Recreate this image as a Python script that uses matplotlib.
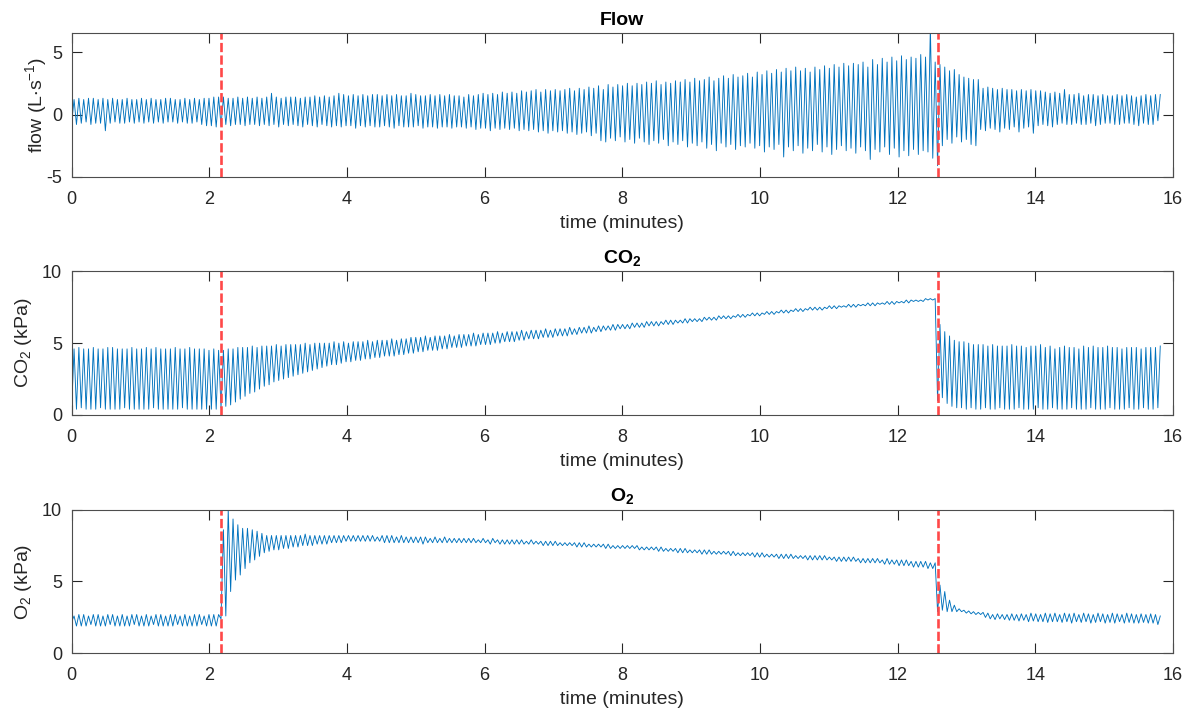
import numpy as np
import matplotlib.pyplot as plt

plt.rcParams['font.family'] = ['Liberation Sans', 'DejaVu Sans']
plt.rcParams['mathtext.default'] = 'regular'
plt.rcParams['axes.unicode_minus'] = False

# === Repères temporels (minutes) ===
t_debut = 0.0
t_bascule_1 = 2.17
t_bascule_2 = 12.58
t_fin = 15.85

# === Valeurs lues respiration par respiration (creux puis pic) ===
# phase A : 0 -> 2.17 min, phase B : 2.17 -> 12.58 min, phase C : 12.58 -> 15.85 min

flow_pic_A = [1.2, 1.3, 1.2, 1.3, 1.3, 1.2, 1.3, 1.2, 1.3, 1.2, 1.2, 1.3, 1.2, 1.2, 1.3, 1.2,
              1.3, 1.2, 1.2, 1.3, 1.3, 1.2, 1.2, 1.3, 1.2, 1.3, 1.2, 1.3, 1.3, 1.4, 1.4]
flow_creux_A = [-0.7, -0.8, -0.7, -0.6, -0.8, -0.7, -0.7, -1.3, -0.7, -0.6, -0.7, -0.7, -0.6, -0.7, -0.6, -0.7,
                -0.6, -0.7, -0.6, -0.7, -0.6, -0.6, -0.7, -0.6, -0.7, -0.7, -0.6, -0.8, -0.9, -0.9, -1.0]
flow_pic_B = [1.4, 1.3, 1.3, 1.4, 1.3, 1.4, 1.3, 1.4, 1.3, 1.4, 1.7, 1.4, 1.3, 1.4, 1.4,
              1.4, 1.3, 1.4, 1.4, 1.5, 1.4, 1.5, 1.4, 1.5, 1.7, 1.6, 1.5, 1.6, 1.5, 1.6,
              1.5, 1.6, 1.6, 1.5, 1.6, 1.5, 1.6, 1.5, 1.5, 1.7, 1.6, 1.5, 1.5, 1.6, 1.5,
              1.6, 1.5, 1.6, 1.5, 1.5, 1.4, 1.6, 1.5, 1.6, 1.7, 1.6, 1.7, 1.6, 1.8, 1.7,
              1.8, 1.7, 1.9, 1.8, 1.9, 2.0, 1.8, 2.0, 1.9, 2.0, 1.9, 2.0, 2.1, 1.9, 2.1,
              2.0, 2.2, 2.1, 2.3, 2.0, 2.4, 2.2, 2.4, 2.3, 2.5, 2.3, 2.5, 2.4, 2.6, 2.5,
              2.7, 2.4, 2.6, 2.5, 2.7, 2.6, 2.8, 2.6, 2.9, 2.7, 2.8, 3.0, 2.7, 2.9, 3.1,
              2.9, 3.2, 3.0, 3.1, 3.3, 3.0, 3.4, 3.2, 3.5, 3.3, 3.6, 3.4, 3.7, 3.5, 3.8,
              3.5, 3.7, 3.4, 3.8, 3.6, 3.9, 3.7, 4.0, 3.8, 4.1, 3.9, 4.1, 4.0, 4.2, 3.8,
              4.4, 4.0, 4.5, 4.2, 4.6, 4.3, 4.7, 4.4, 4.6, 4.5, 4.8, 4.6, 7.0, 4.2]
flow_creux_B = [-0.9, -0.8, -0.9, -0.8, -0.8, -0.9, -0.8, -0.8, -0.9, -0.8, -0.9, -0.8, -1.0, -0.8, -0.9,
                -0.8, -0.9, -1.0, -0.8, -0.9, -1.0, -0.8, -0.9, -1.0, -0.9, -1.0, -0.9, -0.9, -1.1, -0.9,
                -1.0, -0.9, -1.0, -1.0, -0.9, -1.0, -1.1, -0.9, -1.0, -1.0, -1.0, -0.9, -1.1, -1.0, -1.0,
                -1.1, -1.0, -1.0, -1.1, -1.0, -1.0, -1.1, -1.0, -1.2, -1.1, -1.1, -1.3, -1.1, -1.2, -1.1,
                -1.2, -1.1, -1.3, -1.2, -1.3, -1.2, -1.4, -1.3, -1.5, -1.3, -1.4, -1.3, -1.5, -1.4, -1.6,
                -1.5, -1.4, -1.7, -1.5, -2.1, -2.2, -1.9, -2.1, -1.8, -2.2, -2.0, -2.3, -1.9, -2.2, -2.4,
                -2.1, -2.3, -2.0, -2.5, -2.2, -2.4, -2.1, -2.6, -2.3, -2.5, -2.2, -2.7, -2.4, -2.9, -2.3,
                -2.6, -2.4, -2.8, -2.5, -2.6, -2.3, -2.7, -2.5, -3.0, -2.6, -2.8, -2.4, -3.4, -2.6, -2.9,
                -2.5, -3.1, -2.7, -2.9, -2.4, -3.0, -2.6, -3.2, -2.8, -2.5, -2.9, -2.7, -3.1, -2.6, -2.9,
                -3.6, -2.8, -3.0, -2.6, -3.2, -2.7, -3.4, -2.9, -3.3, -2.8, -3.2, -2.9, -3.0, -3.5]
flow_pic_C = [4.0, 3.8, 3.5, 3.6, 3.2, 3.0, 2.9, 2.8, 2.8,
              2.1, 2.2, 2.1, 2.0, 2.1, 2.0, 2.0, 1.9, 2.0, 1.9, 2.0, 1.9,
              1.9, 1.8, 1.7, 1.8, 1.7, 2.0, 1.6, 1.6, 1.7, 1.5, 1.6, 1.6, 1.5, 1.6, 1.5,
              1.5, 1.6, 1.5, 1.6, 1.5, 1.4, 1.5, 1.6, 1.5, 1.6, 1.6]
flow_creux_C = [-4.1, -2.5, -2.0, -2.3, -1.8, -2.2, -2.0, -2.4, -2.5,
                -1.2, -1.3, -1.1, -1.2, -1.4, -1.1, -1.2, -1.0, -1.4, -1.1, -1.0, -1.5,
                -0.9, -0.8, -0.9, -1.0, -0.8, -0.7, -0.8, -0.8, -0.7, -0.8, -0.8, -0.7, -0.9, -0.8, -0.7,
                -0.7, -0.8, -0.8, -0.7, -0.7, -0.8, -0.9, -0.7, -0.8, -0.8, -0.5]

co2_pic_A = [4.6, 4.7, 4.6, 4.6, 4.7, 4.6, 4.6, 4.7, 4.7, 4.6, 4.6, 4.6, 4.7, 4.6, 4.6, 4.7,
             4.6, 4.7, 4.6, 4.6, 4.6, 4.7, 4.6, 4.6, 4.7, 4.6, 4.6, 4.6, 4.5, 4.6, 4.5]
co2_creux_A = [0.4, 0.4, 0.5, 0.4, 0.4, 0.4, 0.5, 0.4, 0.4, 0.4, 0.4, 0.5, 0.4, 0.4, 0.4, 0.4,
               0.4, 0.5, 0.4, 0.4, 0.4, 0.4, 0.4, 0.5, 0.4, 0.4, 0.4, 0.4, 0.4, 0.4, 0.4]
co2_pic_B = [4.5, 4.6, 4.6, 4.7, 4.7, 4.7, 4.8, 4.7, 4.8, 4.8, 4.8, 4.9, 4.8, 4.9, 4.9,
             4.9, 4.9, 5.0, 4.9, 5.0, 5.0, 5.0, 5.0, 5.1, 5.0, 5.1, 5.0, 5.1, 5.1, 5.1,
             5.2, 5.1, 5.2, 5.2, 5.2, 5.3, 5.2, 5.3, 5.3, 5.4, 5.4, 5.4, 5.5, 5.4, 5.5,
             5.5, 5.5, 5.6, 5.5, 5.6, 5.6, 5.6, 5.7, 5.6, 5.7, 5.7, 5.7, 5.8, 5.7, 5.8,
             5.8, 5.8, 5.9, 5.8, 5.9, 5.9, 5.9, 6.0, 5.9, 6.0, 6.0, 6.0, 6.1, 6.0, 6.1,
             6.1, 6.2, 6.1, 6.2, 6.2, 6.2, 6.3, 6.3, 6.3, 6.3, 6.4, 6.4, 6.4, 6.5, 6.5,
             6.5, 6.5, 6.6, 6.6, 6.6, 6.6, 6.7, 6.7, 6.7, 6.7, 6.8, 6.8, 6.8, 6.9, 6.9,
             6.9, 6.9, 7.0, 7.0, 7.0, 7.1, 7.1, 7.1, 7.2, 7.2, 7.2, 7.3, 7.3, 7.3, 7.4,
             7.4, 7.4, 7.5, 7.5, 7.5, 7.5, 7.6, 7.6, 7.6, 7.6, 7.7, 7.7, 7.7, 7.7, 7.8,
             7.8, 7.8, 7.8, 7.9, 7.9, 7.9, 7.9, 8.0, 8.0, 8.0, 8.0, 8.1, 8.1, 8.1]
co2_creux_B = [0.5, 0.6, 0.7, 0.9, 1.1, 1.3, 1.5, 1.6, 1.8, 2.0, 2.1, 2.3, 2.4, 2.5, 2.6,
               2.7, 2.8, 2.9, 3.0, 3.1, 3.2, 3.3, 3.4, 3.5, 3.5, 3.6, 3.7, 3.7, 3.8, 3.8,
               3.9, 3.9, 4.0, 4.0, 4.1, 4.1, 4.1, 4.2, 4.2, 4.3, 4.3, 4.4, 4.4, 4.5, 4.5,
               4.5, 4.6, 4.6, 4.7, 4.7, 4.7, 4.8, 4.8, 4.8, 4.9, 4.9, 4.9, 5.0, 5.0, 5.1,
               5.1, 5.1, 5.2, 5.2, 5.3, 5.3, 5.3, 5.4, 5.4, 5.4, 5.5, 5.5, 5.5, 5.6, 5.6,
               5.7, 5.7, 5.7, 5.8, 5.8, 5.9, 5.9, 5.9, 6.0, 6.0, 6.0, 6.1, 6.1, 6.1, 6.2,
               6.2, 6.2, 6.3, 6.3, 6.3, 6.4, 6.4, 6.4, 6.5, 6.5, 6.5, 6.6, 6.6, 6.6, 6.7,
               6.7, 6.7, 6.8, 6.8, 6.8, 6.9, 6.9, 6.9, 7.0, 7.0, 7.0, 7.1, 7.1, 7.1, 7.2,
               7.2, 7.2, 7.3, 7.3, 7.3, 7.3, 7.4, 7.4, 7.4, 7.5, 7.5, 7.5, 7.5, 7.6, 7.6,
               7.6, 7.6, 7.7, 7.7, 7.7, 7.7, 7.8, 7.8, 7.8, 7.9, 7.9, 7.9, 8.0, 8.0]
co2_pic_C = [6.3, 5.8, 5.5, 5.2, 5.1, 5.1, 5.0, 4.9, 4.9, 4.9, 4.8, 4.9, 4.8, 4.8, 4.8, 4.9,
             4.8, 4.8, 4.7, 4.8, 4.8, 4.9, 4.7, 4.8, 4.6, 4.7, 4.8, 4.7, 4.7, 4.6, 4.8, 4.7,
             4.8, 4.7, 4.7, 4.8, 4.7, 4.7, 4.6, 4.7, 4.7, 4.7, 4.6, 4.7, 4.7, 4.7, 4.8]
co2_creux_C = [1.0, 1.2, 0.8, 0.6, 0.5, 0.5, 0.4, 0.5, 0.4, 0.4, 0.5, 0.4, 0.4, 0.5, 0.4, 0.4,
               0.4, 0.5, 0.4, 0.4, 0.4, 0.5, 0.4, 0.4, 0.5, 0.4, 0.4, 0.4, 0.5, 0.4, 0.4, 0.4,
               0.5, 0.4, 0.4, 0.4, 0.5, 0.4, 0.4, 0.4, 0.5, 0.4, 0.4, 0.5, 0.4, 0.4, 0.5]

o2_pic_A = [2.6, 2.7, 2.7, 2.6, 2.7, 2.7, 2.6, 2.7, 2.7, 2.6, 2.7, 2.6, 2.7, 2.7, 2.6, 2.7,
            2.6, 2.7, 2.7, 2.6, 2.7, 2.7, 2.6, 2.7, 2.6, 2.7, 2.7, 2.6, 2.7, 2.7, 2.7]
o2_creux_A = [2.2, 1.9, 1.9, 1.9, 2.0, 1.9, 1.9, 1.9, 2.0, 1.9, 1.9, 1.9, 1.9, 2.0, 1.9, 1.9,
              1.9, 2.0, 1.9, 1.9, 1.9, 1.9, 2.0, 1.9, 1.9, 1.9, 1.9, 2.0, 1.9, 1.9, 1.9]
o2_pic_B = [8.6, 10.0, 9.35, 8.95, 8.7, 8.7, 8.6, 8.5, 8.35, 8.2, 8.2, 8.2, 8.2, 8.2, 8.2,
            8.2, 8.2, 8.3, 8.2, 8.2, 8.2, 8.2, 8.2, 8.2, 8.2, 8.2, 8.2, 8.2, 8.2, 8.2,
            8.2, 8.2, 8.1, 8.2, 8.2, 8.2, 8.1, 8.2, 8.1, 8.1, 8.1, 8.1, 8.1, 8.0, 8.1,
            8.0, 8.1, 8.0, 8.0, 8.0, 8.0, 8.0, 8.0, 7.9, 8.0, 7.9, 8.0, 7.9, 7.9, 7.9,
            7.9, 7.9, 7.9, 7.8, 7.9, 7.8, 7.8, 7.8, 7.8, 7.8, 7.7, 7.7, 7.7, 7.7, 7.7,
            7.7, 7.6, 7.6, 7.6, 7.6, 7.6, 7.5, 7.5, 7.5, 7.5, 7.5, 7.5, 7.4, 7.4, 7.4,
            7.4, 7.4, 7.3, 7.3, 7.3, 7.3, 7.3, 7.2, 7.2, 7.2, 7.2, 7.2, 7.1, 7.1, 7.1,
            7.1, 7.1, 7.0, 7.0, 7.0, 7.0, 7.0, 7.0, 6.9, 6.9, 6.9, 6.9, 6.9, 6.9, 6.8,
            6.8, 6.8, 6.8, 6.8, 6.8, 6.8, 6.7, 6.7, 6.7, 6.7, 6.7, 6.7, 6.6, 6.6, 6.6,
            6.6, 6.6, 6.5, 6.6, 6.5, 6.5, 6.5, 6.5, 6.4, 6.4, 6.4, 6.4, 6.3, 6.3]
o2_creux_B = [2.4, 2.6, 4.3, 5.1, 5.45, 5.9, 6.3, 6.5, 6.75, 7.0, 7.1, 7.2, 7.2, 7.3, 7.3,
              7.4, 7.4, 7.5, 7.5, 7.5, 7.6, 7.6, 7.6, 7.7, 7.7, 7.7, 7.8, 7.8, 7.8, 7.8,
              7.8, 7.8, 7.8, 7.8, 7.7, 7.7, 7.7, 7.7, 7.7, 7.7, 7.7, 7.7, 7.6, 7.7, 7.7,
              7.7, 7.7, 7.7, 7.7, 7.7, 7.7, 7.7, 7.7, 7.7, 7.7, 7.7, 7.6, 7.7, 7.6, 7.6,
              7.6, 7.6, 7.6, 7.6, 7.6, 7.6, 7.6, 7.5, 7.5, 7.5, 7.5, 7.5, 7.5, 7.5, 7.4,
              7.4, 7.4, 7.4, 7.4, 7.4, 7.3, 7.3, 7.3, 7.3, 7.3, 7.3, 7.3, 7.2, 7.2, 7.2,
              7.2, 7.1, 7.1, 7.1, 7.1, 7.0, 7.0, 7.0, 7.0, 7.0, 6.9, 6.9, 6.9, 6.9, 6.9,
              6.9, 6.8, 6.8, 6.8, 6.8, 6.8, 6.7, 6.7, 6.7, 6.7, 6.7, 6.6, 6.6, 6.6, 6.6,
              6.6, 6.6, 6.5, 6.5, 6.5, 6.5, 6.5, 6.5, 6.4, 6.4, 6.4, 6.4, 6.4, 6.3, 6.3,
              6.3, 6.3, 6.3, 6.2, 6.2, 6.2, 6.1, 6.1, 6.1, 6.0, 6.0, 6.0, 5.9, 5.9]
o2_pic_C = [4.75, 4.3, 3.7, 3.35, 3.1, 3.0, 2.95, 2.9, 2.85, 2.85, 2.8, 2.7, 2.75, 2.7, 2.7, 2.75,
            2.7, 2.75, 2.7, 2.8, 2.75, 2.7, 2.8, 2.75, 2.8, 2.7, 2.8, 2.75, 2.8, 2.7, 2.8, 2.75,
            2.7, 2.8, 2.75, 2.7, 2.8, 2.75, 2.7, 2.8, 2.75, 2.7, 2.75, 2.7, 2.75, 2.7, 2.6]
o2_creux_C = [2.9, 3.0, 2.9, 2.9, 2.9, 2.9, 2.8, 2.75, 2.7, 2.7, 2.5, 2.4, 2.35, 2.4, 2.35, 2.3,
              2.3, 2.25, 2.3, 2.2, 2.25, 2.2, 2.2, 2.15, 2.2, 2.2, 2.15, 2.2, 2.1, 2.2, 2.15, 2.2,
              2.1, 2.15, 2.2, 2.1, 2.15, 2.1, 2.2, 2.1, 2.15, 2.1, 2.1, 2.15, 2.1, 2.1, 2.0]


def trace(t0, t1, creux, pics):
    # une respiration = un creux puis un pic, répartis sur la durée de la phase
    n = len(pics)
    debuts = np.linspace(t0, t1, n + 1)[:-1]
    demi = (t1 - t0) / n / 2
    t = np.column_stack([debuts, debuts + demi]).ravel()
    y = np.column_stack([creux, pics]).ravel()
    return t, y


def serie(creux_pics):
    bornes = [(t_debut, t_bascule_1), (t_bascule_1, t_bascule_2), (t_bascule_2, t_fin)]
    ts, ys = [], []
    for (t0, t1), (c, p) in zip(bornes, creux_pics):
        t, y = trace(t0, t1, c, p)
        ts.append(t)
        ys.append(y)
    return np.concatenate(ts), np.concatenate(ys)


panneaux = [
    ("Flow", "flow (L$\\cdot$s$^{-1}$)", (-5, 6.5), [-5, 0, 5], -0.021,
     [(flow_creux_A, flow_pic_A), (flow_creux_B, flow_pic_B), (flow_creux_C, flow_pic_C)]),
    ("CO$_2$", "CO$_2$ (kPa)", (0, 10), [0, 5, 10], -0.034,
     [(co2_creux_A, co2_pic_A), (co2_creux_B, co2_pic_B), (co2_creux_C, co2_pic_C)]),
    ("O$_2$", "O$_2$ (kPa)", (0, 10), [0, 5, 10], -0.034,
     [(o2_creux_A, o2_pic_A), (o2_creux_B, o2_pic_B), (o2_creux_C, o2_pic_C)]),
]

# === Affichage ===
fig = plt.figure(figsize=(11.94, 7.13), dpi=100)
bas = [0.7518, 0.418, 0.0837]
gris = '#262626'

for (titre, ylab, ylim, yticks, xlab, donnees), b in zip(panneaux, bas):
    ax = fig.add_axes([0.060, b, 0.9224, 0.2015])
    t, y = serie(donnees)
    ax.plot(t, y, color='#0072BD', lw=0.65)
    for tb in (t_bascule_1, t_bascule_2):
        ax.axvline(tb, color='#ff4848', lw=1.9, dashes=(3.5, 1.25))
    ax.set_xlim(0, 16)
    ax.set_ylim(*ylim)
    ax.set_xticks(np.arange(0, 17, 2))
    ax.set_yticks(yticks)
    ax.tick_params(direction='in', top=True, right=True, length=7, width=0.8,
                   labelsize=13, colors=gris)
    ax.tick_params(axis='x', pad=10)
    ax.tick_params(axis='y', pad=7)
    for s in ax.spines.values():
        s.set_color('#4d4d4d')
        s.set_linewidth(0.8)
    ax.set_title(titre, fontsize=14, fontweight='bold', pad=6)
    ax.set_xlabel("time (minutes)", fontsize=14, color=gris, labelpad=5)
    ax.set_ylabel(ylab, fontsize=14, color=gris)
    ax.yaxis.set_label_coords(xlab, 0.5)

plt.savefig("out.png", dpi=100)
